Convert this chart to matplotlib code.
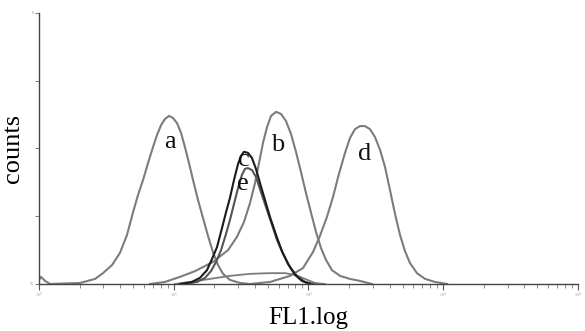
import numpy as np
import matplotlib
matplotlib.use("Agg")
import matplotlib.pyplot as plt
from matplotlib.ticker import FixedLocator, NullFormatter

a_log = [0.0, 0.015, 0.045, 0.082, 0.304, 0.416, 0.475, 0.542, 0.601, 0.653, 0.698,
         0.735, 0.772, 0.809, 0.846, 0.876, 0.906, 0.935, 0.965, 0.994, 1.024, 1.054,
         1.083, 1.113, 1.143, 1.180, 1.217, 1.254, 1.291, 1.328, 1.366, 1.417, 1.492, 1.566]
a_cnt = [1.2, 2.1, 0.9, 0.0, 0.3, 1.5, 3.2, 5.6, 9.2, 14.5, 21.2,
         26.3, 30.7, 35.7, 40.4, 44.0, 46.9, 48.7, 49.6, 49.0, 47.5, 44.6,
         40.4, 35.7, 30.7, 24.8, 19.5, 14.2, 9.4, 5.6, 3.0, 1.2, 0.3, 0.0]

b_log = [0.824, 0.935, 1.046, 1.158, 1.291, 1.403, 1.469, 1.521, 1.566, 1.603, 1.633,
         1.662, 1.692, 1.722, 1.759, 1.796, 1.833, 1.870, 1.907, 1.944, 1.981, 2.019,
         2.056, 2.093, 2.130, 2.174, 2.234, 2.308, 2.382, 2.471]
b_cnt = [0.0, 0.6, 2.1, 3.8, 6.5, 10.0, 13.9, 18.3, 23.9, 29.8, 35.7,
         41.6, 46.3, 49.6, 50.8, 50.2, 48.1, 44.3, 39.0, 33.1, 26.9, 21.0,
         15.3, 10.6, 7.1, 4.1, 2.4, 1.5, 0.9, 0.0]

c_log = [1.046, 1.135, 1.194, 1.247, 1.284, 1.321, 1.358, 1.388, 1.417, 1.447, 1.477,
         1.499, 1.521, 1.551, 1.580, 1.610, 1.640, 1.677, 1.714, 1.759, 1.803, 1.848,
         1.900, 1.952, 2.011]
c_cnt = [0.0, 0.6, 1.8, 4.1, 7.4, 10.9, 16.5, 21.2, 25.4, 30.7, 35.4,
         37.8, 39.0, 38.7, 37.2, 34.0, 29.8, 24.8, 19.8, 14.5, 9.7, 5.9,
         2.7, 0.9, 0.0]

d_log = [1.566, 1.714, 1.863, 1.959, 2.033, 2.085, 2.137, 2.182, 2.226, 2.271, 2.308,
         2.345, 2.382, 2.419, 2.456, 2.493, 2.531, 2.568, 2.605, 2.642, 2.679, 2.716,
         2.753, 2.805, 2.865, 2.939, 3.028]
d_cnt = [0.0, 0.6, 2.4, 4.7, 9.4, 14.2, 19.8, 25.7, 32.5, 38.7, 43.1,
         45.7, 46.6, 46.6, 45.7, 43.4, 39.6, 34.5, 27.7, 20.7, 14.5, 9.7,
         6.2, 3.2, 1.5, 0.6, 0.0]

e_log = [1.083, 1.173, 1.232, 1.276, 1.314, 1.351, 1.388, 1.417, 1.447, 1.477, 1.506,
         1.529, 1.551, 1.581, 1.610, 1.640, 1.677, 1.722, 1.766, 1.811, 1.863, 1.915,
         1.974, 2.041]
e_cnt = [0.0, 0.6, 1.8, 3.8, 6.5, 10.0, 14.8, 18.9, 23.6, 28.3, 32.2,
         34.0, 34.2, 33.6, 31.6, 28.0, 23.6, 18.3, 13.0, 8.9, 5.0, 2.4,
         0.6, 0.0]

# broad low histogram under the peaks
f_log = [1.009, 1.121, 1.269, 1.417, 1.566, 1.714, 1.826, 1.900, 1.974, 2.048, 2.122]
f_cnt = [0.0, 0.6, 1.5, 2.4, 3.0, 3.2, 3.2, 2.7, 1.5, 0.3, 0.0]

peak_names = ["a", "b", "c", "e", "d"]
name_log = [0.97, 1.77, 1.52, 1.51, 2.42]
name_cnt = [42.0, 41.0, 36.5, 29.5, 38.5]

plt.rcParams["font.family"] = ["Liberation Serif", "DejaVu Serif"]

fig = plt.figure(figsize=(5.85, 3.31), dpi=100)
ax = fig.add_axes([0.0667, 0.142, 0.9213, 0.819])

grey = "#7c7c7c"
ax.plot(10 ** np.array(f_log), f_cnt, color=grey, lw=1.3)
ax.plot(10 ** np.array(a_log), a_cnt, color=grey, lw=1.5)
ax.plot(10 ** np.array(b_log), b_cnt, color=grey, lw=1.5)
ax.plot(10 ** np.array(d_log), d_cnt, color=grey, lw=1.5)
ax.plot(10 ** np.array(e_log), e_cnt, color="#555555", lw=1.5)
ax.plot(10 ** np.array(c_log), c_cnt, color="#1a1a1a", lw=1.5)

for name, lx, ly in zip(peak_names, name_log, name_cnt):
    ax.text(10 ** lx, ly, name, fontsize=19, ha="center", va="center", color="#111111")

ax.set_xscale("log")
ax.set_xlim(1, 1e4)
ax.set_ylim(0, 80)

for s in ["top", "right"]:
    ax.spines[s].set_visible(False)
for s in ["left", "bottom"]:
    ax.spines[s].set_color("#444444")
    ax.spines[s].set_linewidth(1.0)

ax.xaxis.set_major_locator(FixedLocator([1, 10, 100, 1000, 10000]))
ax.set_xticklabels(["10$^0$", "10$^1$", "10$^2$", "10$^3$", "10$^4$"],
                   fontsize=3, color="#999999")
minors = [m * 10 ** k for k in range(4) for m in range(2, 10)]
ax.xaxis.set_minor_locator(FixedLocator(minors))
ax.xaxis.set_minor_formatter(NullFormatter())
ax.tick_params(axis="x", which="major", length=4, width=0.8, color="#555555", pad=1)
ax.tick_params(axis="x", which="minor", length=3, width=0.6, color="#777777")

ax.set_yticks([0, 20, 40, 60, 80])
ax.set_yticklabels(["10", "", "", "", "8"], fontsize=3, color="#999999")
ax.tick_params(axis="y", length=3, width=0.7, color="#777777", pad=1)

ax.set_xlabel("FL1.log", fontsize=18, labelpad=5)
ax.set_ylabel("counts", fontsize=19, labelpad=4)

fig.savefig("out.png", dpi=100)
